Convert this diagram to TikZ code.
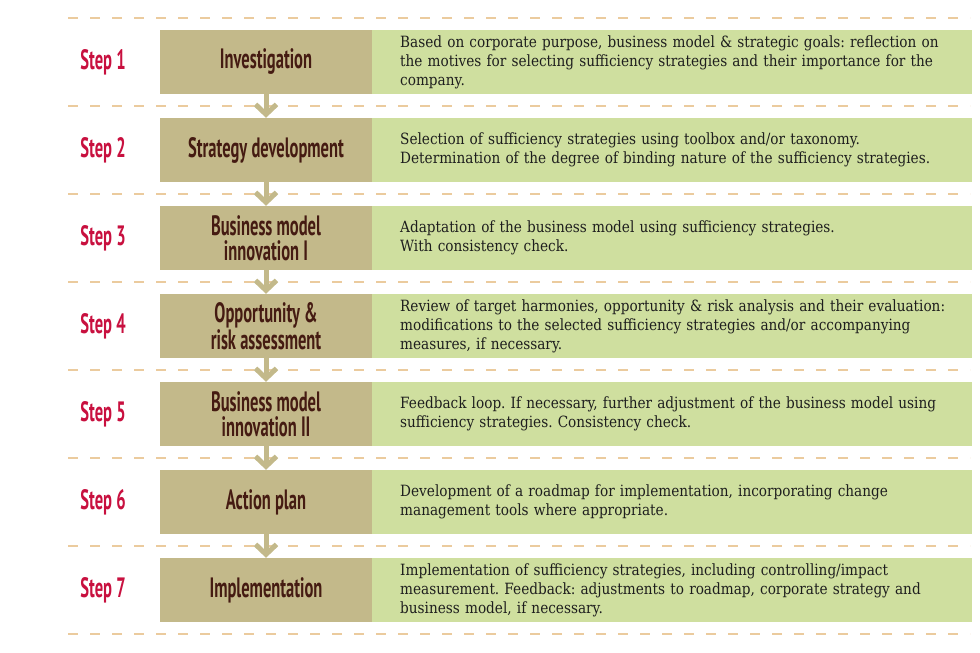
\documentclass[tikz,border=0pt]{standalone}
\usepackage{fontspec}
\setmainfont{DejaVu Serif}[FakeStretch=0.88]
\newfontfamily\headfont{PT Sans}[FakeStretch=0.59]
\usetikzlibrary{arrows.meta}
\definecolor{tanbox}{HTML}{C3B98A}
\definecolor{greenbox}{HTML}{CFDF9F}
\definecolor{dashcol}{HTML}{EBCB9E}
\definecolor{stepred}{HTML}{C8103F}
\definecolor{headtext}{HTML}{451B12}
\definecolor{desctext}{HTML}{1E1E1E}
\tikzset{
  dashline/.style={draw=dashcol, line width=1.6pt, dash pattern=on 10pt off 12pt},
  headbox/.style={fill=tanbox, minimum width=212pt, minimum height=64pt, inner sep=0pt, align=center,
    text=headtext, font=\headfont\bfseries\fontsize{28}{25}\selectfont},
  descbox/.style={fill=greenbox, minimum width=600pt, minimum height=64pt, inner sep=0pt},
  desctxt/.style={anchor=west, text width=570pt, inner sep=0pt, align=left, text=desctext,
    font=\fontsize{15.5}{19}\selectfont\frenchspacing},
  steplbl/.style={text=stepred, inner sep=0pt, font=\headfont\bfseries\fontsize{28}{25}\selectfont},
  flowarrow/.style={draw=tanbox, line width=5pt, -{Straight Barb[length=10pt,width=21pt]}},
}
\begin{document}
\begin{tikzpicture}[x=1pt,y=-1pt]
\useasboundingbox (0,0) rectangle (980,653);
\foreach \yy in {18,106,194,282,370,458,546,634}
  \draw[dashline] (68,\yy) -- (970,\yy);
\foreach \i/\head/\desc in {
 1/{Investigation}/{Based on corporate purpose, business model \& strategic goals: reflection on\\the motives for selecting sufficiency strategies and their importance for the\\company.},
 2/{Strategy development}/{Selection of sufficiency strategies using toolbox and/or taxonomy.\\Determination of the degree of binding nature of the sufficiency strategies.},
 3/{Business model\\innovation I}/{Adaptation of the business model using sufficiency strategies.\\With consistency check.},
 4/{Opportunity \&\\risk assessment}/{Review of target harmonies, opportunity \& risk analysis and their evaluation:\\modifications to the selected sufficiency strategies and/or accompanying\\measures, if necessary.},
 5/{Business model\\innovation II}/{Feedback loop. If necessary, further adjustment of the business model using\\sufficiency strategies. Consistency check.},
 6/{Action plan}/{Development of a roadmap for implementation, incorporating change\\management tools where appropriate.},
 7/{Implementation}/{Implementation of sufficiency strategies, including controlling/impact\\measurement. Feedback: adjustments to roadmap, corporate strategy and\\business model, if necessary.}}
{
  \pgfmathsetmacro{\cy}{62+88*(\i-1)}
  \node[headbox] (h\i) at (266,\cy) {\head};
  \node[descbox] (d\i) at (672,\cy) {};
  \node[desctxt] (t\i) at (400,\cy) {\desc};
  \node[steplbl] (s\i) at (103,\cy) {Step \i};
}
\foreach \i/\j in {1/2,2/3,3/4,4/5,5/6,6/7}
  \draw[flowarrow] (h\i.south) -- (h\j.north);
\end{tikzpicture}
\end{document}
